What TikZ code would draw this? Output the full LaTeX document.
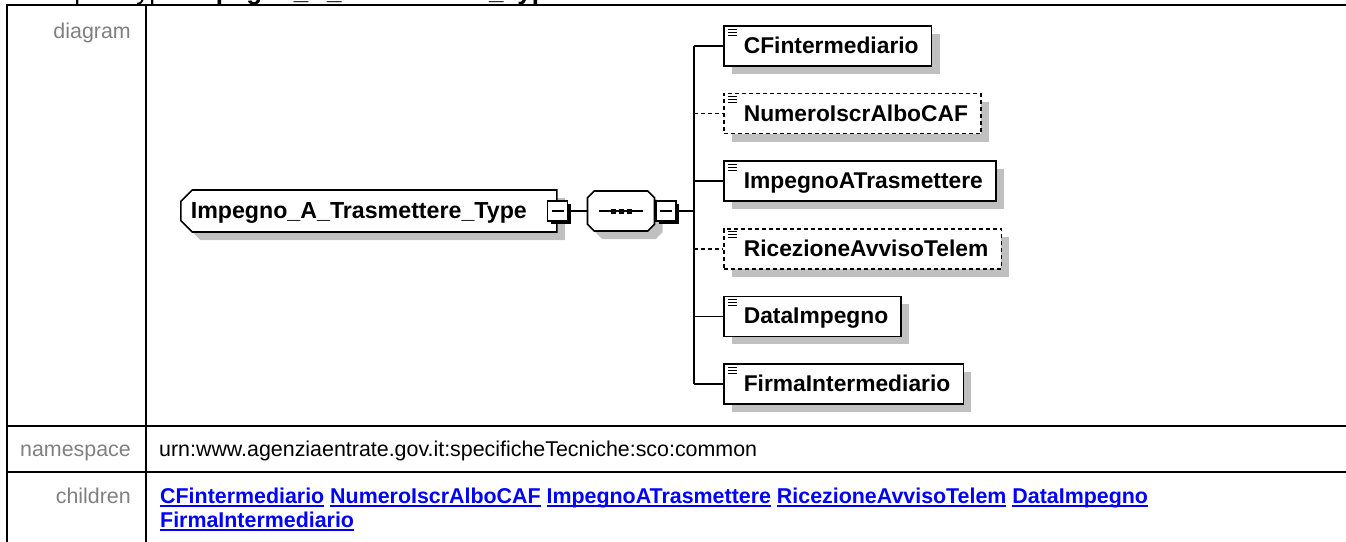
\documentclass[tikz,border=0pt]{standalone}
\usepackage{fontspec}
\setmainfont{Liberation Sans}
\usepackage{tikz}
\usetikzlibrary{positioning, shapes.misc, shadows}
\definecolor{shadowgray}{RGB}{192,192,192}
\definecolor{labelgray}{RGB}{128,128,128}
\definecolor{linkblue}{RGB}{0,0,255}
\tikzstyle{grayshadow} = [drop shadow={shadow xshift=8pt, shadow yshift=-8pt, fill=shadowgray, opacity=1}]
\tikzstyle{elem} = [rectangle, draw, fill=white, line width=1.6pt, grayshadow, minimum height=40pt, inner xsep=13pt, text height=16pt, text depth=1pt, anchor=west, font=\fontsize{22.8}{26}\selectfont\bfseries, execute at begin node=\hspace*{7pt}, path picture={\foreach \k in {3,6,9} \draw[solid, line width=1pt] ([xshift=4pt, yshift=-\k pt]path picture bounding box.north west) -- ++(9,0);}]
\tikzstyle{optelem} = [elem, dash pattern=on 4pt off 3pt]
\tikzstyle{typebox} = [chamfered rectangle, chamfered rectangle corners={north west,south west}, chamfered rectangle xsep=8pt, draw, fill=white, line width=1.6pt, grayshadow, minimum height=42pt, inner xsep=2pt, text height=16pt, text depth=1pt, font=\fontsize{23.2}{26}\selectfont\bfseries]
\tikzstyle{seqbox} = [chamfered rectangle, chamfered rectangle xsep=9pt, draw, fill=white, line width=1.6pt, grayshadow, minimum width=67pt, minimum height=40pt]
\tikzstyle{expander} = [rectangle, draw, fill=white, line width=1.2pt, minimum size=20pt, inner sep=0pt, drop shadow={shadow xshift=3pt, shadow yshift=-3pt, fill=black, opacity=1}, path picture={\draw[line width=1.2pt] ([xshift=4pt]path picture bounding box.west) -- ([xshift=-4pt]path picture bounding box.east);}]
\tikzstyle{link} = [line width=1.6pt]
\tikzstyle{cell} = [inner sep=0pt, font=\fontsize{21.4}{24}\selectfont]
\newcommand{\xlink}[1]{{\color{linkblue}\bfseries\setbox0\hbox{#1}\rlap{\rule[-3.5pt]{\wd0}{1.6pt}}\box0}}

\begin{document}
\begin{tikzpicture}[x=1pt, y=-1pt]
\useasboundingbox (0,0) rectangle (1346,541);

\node (title) [anchor=base west, inner sep=0pt, font=\fontsize{26}{30}\selectfont] at (25,-1) {complexType \textbf{Impegno\_A\_Trasmettere\_Type}};

\draw[line width=2pt] (7,545) -- (7,5) -- (1350,5);
\draw[line width=2pt] (146,5) -- (146,545);
\draw[line width=2pt] (7,426) -- (1350,426);
\draw[line width=2pt] (7,472) -- (1350,472);

\node (diaglbl) [cell, anchor=base east, text=labelgray] at (131,38) {diagram};
\node (nslbl)   [cell, anchor=base east, text=labelgray] at (131,456) {namespace};
\node (kidslbl) [cell, anchor=base east, text=labelgray] at (131,503) {children};
\node (nsval)   [cell, anchor=base west] at (159,456) {urn:www.agenziaentrate.gov.it:specificheTecniche:sco:common};
\node (kids1)   [cell, anchor=base west] at (160,503) {\xlink{CFintermediario} \xlink{NumeroIscrAlboCAF} \xlink{ImpegnoATrasmettere} \xlink{RicezioneAvvisoTelem} \xlink{DataImpegno}};
\node (kids2)   [cell, anchor=base west] at (160,527) {\xlink{FirmaIntermediario}};

\node (root)  [typebox, anchor=west] at (180,211) {Impegno\_A\_Trasmettere\_Type\hspace*{20pt}};
\node (rootx) [expander] at (root.east) {};
\node (seq)   [seqbox, right=29pt of root] {};
\node (seqx)  [expander, right=0pt of seq] {};
\coordinate (bus) at (694,211);

\draw[line width=1.4pt] ([xshift=-22pt]seq.center) -- ([xshift=22pt]seq.center);
\foreach \d in {-8,0,8} \fill ([xshift=\d pt]seq.center) ++(-2.5,-2.5) rectangle ++(5,5);

\node (cfint)   [elem] at (723,46) {CFintermediario};
\node (numiscr) [optelem, below=26pt of cfint.south west, anchor=north west] {NumeroIscrAlboCAF};
\node (impegno) [elem, below=26pt of numiscr.south west, anchor=north west] {ImpegnoATrasmettere};
\node (ricez)   [optelem, below=26pt of impegno.south west, anchor=north west] {RicezioneAvvisoTelem};
\node (data)    [elem, below=26pt of ricez.south west, anchor=north west] {DataImpegno};
\node (firma)   [elem, below=26pt of data.south west, anchor=north west] {FirmaIntermediario};

\draw[link] (rootx) -- (seq);
\draw[link] (seqx) -- (bus);
\draw[link] (bus |- cfint.west) -- (bus |- firma.west);
\draw[link] (bus |- cfint.west) -- (cfint);
\draw[link, dash pattern=on 4pt off 3pt] (bus |- numiscr.west) -- (numiscr);
\draw[link] (bus |- impegno.west) -- (impegno);
\draw[link, dash pattern=on 4pt off 3pt] (bus |- ricez.west) -- (ricez);
\draw[link] (bus |- data.west) -- (data);
\draw[link] (bus |- firma.west) -- (firma);

\end{tikzpicture}
\end{document}
